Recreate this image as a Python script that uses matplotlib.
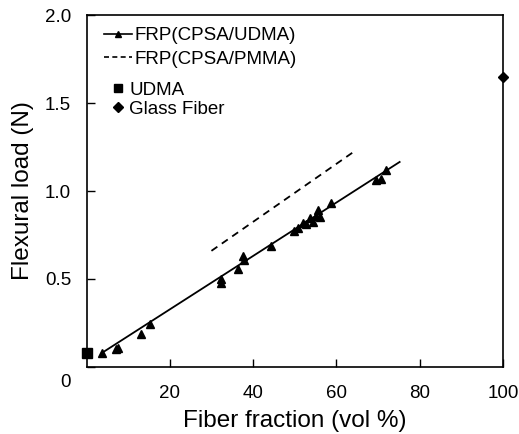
import numpy as np
import matplotlib
matplotlib.use('Agg')
import matplotlib.pyplot as plt
import matplotlib.transforms as mtransforms
from matplotlib.lines import Line2D

plt.rcParams['font.family'] = ['Liberation Sans', 'DejaVu Sans']

# FRP(CPSA/UDMA) measured points
frp_x = [3.6, 7.0, 7.6, 13.2, 15.2, 32.2, 32.4, 36.4, 37.6, 37.9, 44.4,
         49.8, 50.8, 51.9, 52.8, 53.6, 54.4, 55.0, 55.6, 56.0, 58.8,
         69.6, 70.8, 72.0]
frp_y = [0.08, 0.105, 0.11, 0.19, 0.245, 0.475, 0.50, 0.555, 0.63, 0.61, 0.69,
         0.775, 0.79, 0.82, 0.815, 0.845, 0.825, 0.86, 0.89, 0.855, 0.93,
         1.065, 1.07, 1.12]

# regression lines
udma_fit_x = [3.7, 75.2]
udma_fit_y = [0.08, 1.165]
pmma_fit_x = [30.0, 64.0]
pmma_fit_y = [0.66, 1.22]

# reference materials
udma_x, udma_y = [0.0], [0.078]
glass_x, glass_y = [100.0], [1.645]

xticks = [20, 40, 60, 80, 100]
yticks = [0, 0.5, 1.0, 1.5, 2.0]
ytick_labels = ['0', '0.5', '1.0', '1.5', '2.0']

fig = plt.figure(figsize=(5.19, 4.34), dpi=100)
ax = fig.add_axes([0.1667, 0.1544, 0.8023, 0.811])

ax.plot(udma_fit_x, udma_fit_y, color='black', lw=1.3)
ax.plot(pmma_fit_x, pmma_fit_y, color='black', lw=1.3, ls=(0, (4, 3)))
ax.plot(frp_x, frp_y, ls='none', marker='^', color='black', ms=5.3)
ax.plot(udma_x, udma_y, ls='none', marker='s', color='black', ms=6.5,
        clip_on=False, zorder=5)
ax.plot(glass_x, glass_y, ls='none', marker='D', color='black', ms=5.5,
        clip_on=False, zorder=5)

ax.set_xlim(0, 100)
ax.set_ylim(0, 2.0)
ax.set_xticks(xticks)
ax.set_yticks(yticks)
ax.set_yticklabels(ytick_labels)
ax.tick_params(direction='in', length=6, width=1, labelsize=13.5)
ax.tick_params(axis='x', pad=13)
ax.tick_params(axis='y', pad=11)
for s in ax.spines.values():
    s.set_linewidth(1.2)

# the "0" label sits lower than its tick in the original
lbl0 = ax.get_yticklabels()[0]
lbl0.set_transform(lbl0.get_transform() +
                   mtransforms.ScaledTranslation(0, -14 / 100, fig.dpi_scale_trans))

ax.set_xlabel('Fiber fraction (vol %)', fontsize=17.5, labelpad=6)
ax.set_ylabel('Flexural load (N)', fontsize=17.5, labelpad=8)

h1 = [Line2D([], [], color='black', lw=1.2, marker='^', ms=5),
      Line2D([], [], color='black', lw=1.2, ls=(0, (3, 2)))]
leg1 = ax.legend(h1, ['FRP(CPSA/UDMA)', 'FRP(CPSA/PMMA)'], loc='upper left',
                 bbox_to_anchor=(0.042, 0.966), frameon=False, fontsize=13.5,
                 handlelength=1.5, handletextpad=0.1, labelspacing=0.35,
                 borderpad=0, borderaxespad=0)
ax.add_artist(leg1)
h2 = [Line2D([], [], color='black', ls='none', marker='s', ms=5.5),
      Line2D([], [], color='black', ls='none', marker='D', ms=5)]
ax.legend(h2, ['UDMA', 'Glass Fiber'], loc='upper left',
          bbox_to_anchor=(0.058, 0.81), frameon=False, fontsize=13.5,
          handlelength=0.8, handletextpad=0.2, labelspacing=0.08,
          borderpad=0, borderaxespad=0)

fig.savefig('out.png', dpi=100)
